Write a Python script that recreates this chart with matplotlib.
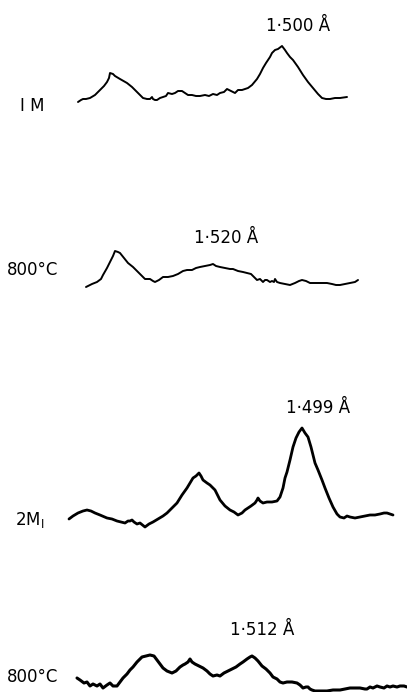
import matplotlib
matplotlib.use("Agg")
import matplotlib.pyplot as plt

# ---- data (in image pixel coordinates) ----
trace1_x = [78, 81, 83, 86, 90, 95, 100, 104, 107, 109, 110, 113, 115, 120, 127, 132, 137, 141, 143, 147, 150, 152, 153, 155, 157, 160, 163, 166, 168, 172, 175, 178, 182, 185, 188, 192, 196, 200, 205, 209, 213, 217, 220, 224, 227, 231, 235, 238, 242, 248, 252, 257, 260, 263, 266, 270, 272, 275, 278, 282, 285, 287, 290, 293, 298, 303, 308, 313, 318, 322, 326, 330, 335, 340, 347]
trace1_y = [102, 100, 99, 99, 98, 95, 90, 86, 82, 78, 73, 74, 76, 79, 83, 87, 92, 96, 98, 99, 99, 97, 99, 100, 100, 98, 97, 96, 93, 94, 93, 91, 91, 93, 95, 95, 96, 96, 95, 96, 94, 95, 93, 92, 89, 91, 93, 90, 90, 88, 85, 79, 74, 68, 63, 57, 53, 50, 49, 46, 50, 53, 57, 60, 67, 75, 82, 88, 94, 98, 99, 99, 98, 98, 97]

trace2_x = [86, 92, 97, 101, 103, 107, 110, 113, 115, 118, 120, 124, 128, 133, 137, 141, 145, 148, 150, 153, 155, 159, 163, 168, 173, 178, 183, 187, 192, 196, 200, 205, 210, 213, 216, 220, 225, 230, 233, 238, 243, 247, 251, 254, 257, 260, 263, 265, 267, 270, 272, 274, 275, 277, 280, 285, 290, 295, 299, 302, 306, 310, 313, 318, 323, 327, 332, 336, 340, 345, 350, 355, 358]
trace2_y = [287, 284, 282, 279, 275, 268, 262, 256, 251, 252, 253, 258, 263, 267, 271, 275, 279, 279, 279, 281, 282, 280, 277, 277, 276, 274, 271, 270, 270, 268, 267, 266, 265, 264, 266, 267, 268, 269, 269, 271, 272, 273, 274, 277, 280, 279, 282, 280, 280, 282, 281, 282, 279, 282, 283, 284, 285, 283, 281, 280, 281, 283, 283, 283, 283, 283, 284, 285, 285, 284, 283, 282, 280]

trace3_x = [69, 73, 78, 83, 87, 91, 95, 100, 107, 112, 117, 121, 125, 128, 130, 132, 134, 137, 140, 145, 149, 153, 158, 163, 167, 172, 177, 182, 187, 190, 193, 196, 199, 201, 203, 207, 210, 215, 220, 225, 230, 234, 238, 242, 245, 248, 251, 255, 257, 258, 260, 263, 267, 272, 277, 280, 283, 285, 287, 290, 293, 296, 299, 302, 305, 308, 311, 315, 318, 322, 325, 329, 333, 337, 340, 344, 347, 350, 355, 360, 365, 370, 375, 380, 384, 387, 390, 393]
trace3_y = [519, 516, 513, 511, 510, 511, 513, 515, 518, 519, 521, 522, 523, 521, 521, 520, 522, 524, 523, 527, 524, 522, 519, 516, 513, 508, 503, 495, 488, 483, 478, 476, 473, 476, 480, 483, 485, 490, 500, 506, 510, 512, 515, 513, 510, 508, 506, 503, 500, 498, 501, 503, 502, 502, 501, 497, 488, 478, 472, 460, 447, 438, 432, 428, 433, 437, 447, 463, 470, 480, 488, 498, 507, 514, 517, 518, 516, 517, 518, 517, 516, 515, 515, 514, 513, 513, 514, 515]

trace4_x = [77, 80, 84, 87, 90, 93, 97, 100, 103, 107, 110, 113, 117, 120, 123, 127, 130, 133, 137, 140, 142, 146, 150, 154, 157, 160, 163, 167, 172, 176, 180, 183, 185, 188, 190, 192, 195, 199, 203, 207, 210, 213, 217, 220, 224, 228, 232, 236, 240, 243, 247, 250, 252, 255, 258, 262, 266, 270, 273, 277, 280, 283, 287, 292, 297, 300, 303, 306, 308, 310, 312, 315, 320, 327, 333, 340, 345, 350, 355, 360, 365, 367, 370, 373, 377, 380, 384, 387, 390, 393, 397, 400, 404, 407]
trace4_y = [678, 680, 683, 682, 686, 684, 686, 684, 688, 685, 683, 686, 686, 682, 678, 674, 670, 667, 662, 659, 657, 656, 655, 656, 660, 664, 668, 671, 673, 671, 667, 665, 664, 662, 659, 662, 664, 666, 668, 671, 674, 676, 675, 676, 673, 671, 669, 667, 664, 662, 659, 657, 656, 658, 661, 666, 669, 673, 677, 679, 682, 683, 682, 682, 683, 685, 688, 687, 687, 689, 690, 691, 691, 691, 690, 690, 689, 688, 688, 688, 689, 689, 687, 688, 686, 687, 688, 686, 687, 686, 687, 686, 686, 687]

traces = [(trace1_x, trace1_y, 1.4), (trace2_x, trace2_y, 1.4),
          (trace3_x, trace3_y, 2.0), (trace4_x, trace4_y, 2.2)]

left_labels = ["I M", "800°C", "2M$_\\mathregular{I}$", "800°C"]
left_label_pos = [(20, 106), (7, 270), (15, 520), (7, 677)]
peak_labels = ["1·500 Å", "1·520 Å", "1·499 Å", "1·512 Å"]
peak_label_pos = [(298, 26), (226, 238), (318, 408), (262, 630)]

# ---- figure ----
fig = plt.figure(figsize=(4.07, 6.92), dpi=100)
ax = fig.add_axes([0, 0, 1, 1])
ax.set_xlim(0, 407)
ax.set_ylim(692, 0)
ax.axis("off")

for xs, ys, lw in traces:
    ax.plot(xs, ys, color="black", lw=lw, solid_joinstyle="round", solid_capstyle="round")

for txt, (x, y) in zip(left_labels, left_label_pos):
    ax.text(x, y, txt, fontsize=12, family=["DejaVu Sans"],
            ha="left", va="center", color="black")

for txt, (x, y) in zip(peak_labels, peak_label_pos):
    ax.text(x, y, txt, fontsize=12, family=["DejaVu Sans"],
            ha="center", va="center", color="black")

fig.savefig("out.png", dpi=100)
